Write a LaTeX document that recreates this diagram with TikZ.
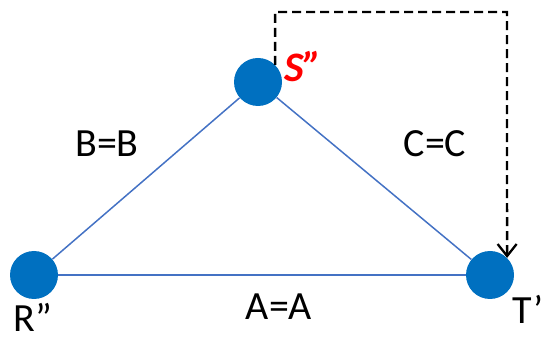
\documentclass[tikz,border=0pt]{standalone}
\usepackage{fontspec}
\setmainfont{Carlito}
\usetikzlibrary{arrows.meta, positioning}
\definecolor{dotblue}{HTML}{0070C0}
\definecolor{edgeblue}{HTML}{4472C4}
\tikzset{>=latex}
\tikzset{
	vertex/.style={shape=circle, fill=dotblue, minimum size=48pt, inner sep=0pt},
	side/.style={draw=edgeblue, line width=1.5pt},
	lbl/.style={anchor=base, inner sep=0pt, font=\fontsize{40}{48}\selectfont}
}

\begin{document}
\begin{tikzpicture}[x=1pt, y=1pt]
	\useasboundingbox (0, 0) rectangle (545, 342);
	% Vertices:
	\node[vertex] (S) at (258, 260){};
	\node[vertex] (R) at (34, 67){};
	\node[vertex] (T) at (490, 67){};
	% Sides:
	\draw[side] (R) -- (S);
	\draw[side] (S) -- (T);
	\draw[side] (R) -- (T);
	% Dashed path:
	\coordinate (top) at (507, 330);
	\draw[line width=2.3pt, dash pattern={on 9pt off 5pt}, -{Straight Barb[length=12pt, width=19pt, line width=2.3pt]}] (S.45) |- (top) -- (T.45);
	% Labels:
	\node[lbl, text=red, font=\fontsize{42}{48}\selectfont\bfseries\itshape] (Slbl) at (303, 260){S”};
	\node[lbl] (Rlbl) at (33, 10){R”};
	\node[lbl] (Tlbl) at (528, 19){T’};
	\node[lbl] (Blbl) at (107, 185){B=B};
	\node[lbl] (Clbl) at (435, 185){C=C};
	\node[lbl] (Albl) at (279, 22){A=A};
\end{tikzpicture}
\end{document}
